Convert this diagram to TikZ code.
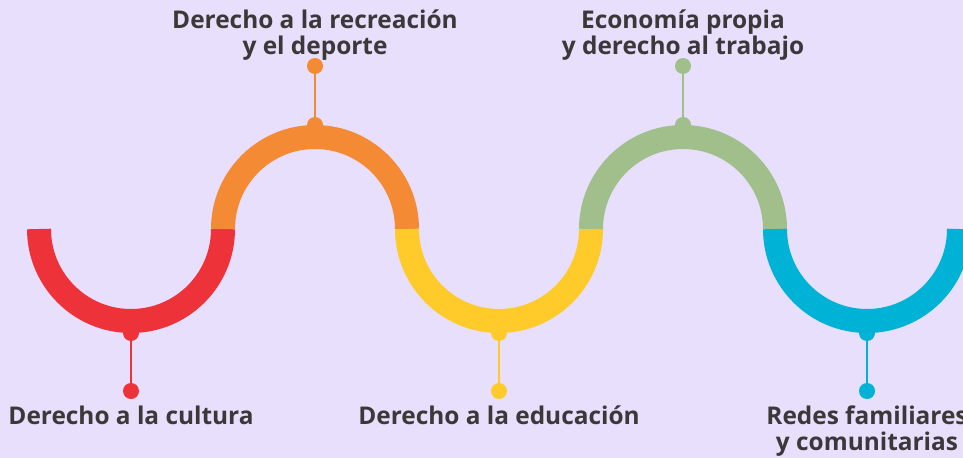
\documentclass[tikz,border=0pt]{standalone}
\usepackage{fontspec}
\setmainfont{Open Sans}
\usetikzlibrary{positioning}
\definecolor{bgLila}{HTML}{E8DFFC}
\definecolor{cRojo}{HTML}{EE323A}
\definecolor{cNaranja}{HTML}{F58A34}
\definecolor{cAmarillo}{HTML}{FFCB2A}
\definecolor{cVerde}{HTML}{A1BF8B}
\definecolor{cCian}{HTML}{00B2D6}
\definecolor{txtGris}{HTML}{3A3838}
\tikzset{
  band/.style={line width=18pt},
  dot/.style={circle, fill=#1, inner sep=0pt, minimum size=12pt},
  stem/.style={draw=#1, line width=1.5pt},
  lbl/.style={font=\bfseries\fontsize{18.3}{19.5}\selectfont, text=txtGris, align=center, inner sep=0pt}
}

\begin{document}
\begin{tikzpicture}[x=0.75pt,y=0.75pt]
		%%%%% START %%%%%
		\fill[bgLila] (0,0) rectangle (963,458);
		\useasboundingbox (0,0) rectangle (963,458);
		
		\draw[band, cRojo] (39,229) arc (180:360:92);
		\draw[band, cNaranja] (223,229) arc (180:0:92);
		\draw[band, cAmarillo] (407,229) arc (180:360:92);
		\draw[band, cVerde] (591,229) arc (180:0:92);
		\draw[band, cCian] (775,229) arc (180:360:92);
		
		\node[dot=cRojo] (arcRojo) at (131,125) {};
		\node[dot=cRojo] (finRojo) at (131,67) {};
		\draw[stem=cRojo] (arcRojo) -- (finRojo);
		\node[lbl, below=5pt of finRojo] (txtRojo) {Derecho a la cultura};
		
		\node[dot=cNaranja] (arcNaranja) at (315,333) {};
		\node[dot=cNaranja] (finNaranja) at (315,392) {};
		\draw[stem=cNaranja] (arcNaranja) -- (finNaranja);
		\node[lbl, above=-2pt of finNaranja] (txtNaranja) {Derecho a la recreación\\y el deporte};
		
		\node[dot=cAmarillo] (arcAmarillo) at (499,125) {};
		\node[dot=cAmarillo] (finAmarillo) at (499,67) {};
		\draw[stem=cAmarillo] (arcAmarillo) -- (finAmarillo);
		\node[lbl, below=5pt of finAmarillo] (txtAmarillo) {Derecho a la educación};
		
		\node[dot=cVerde] (arcVerde) at (683,333) {};
		\node[dot=cVerde] (finVerde) at (683,392) {};
		\draw[stem=cVerde] (arcVerde) -- (finVerde);
		\node[lbl, above=-2pt of finVerde] (txtVerde) {Economía propia\\y derecho al trabajo};
		
		\node[dot=cCian] (arcCian) at (867,125) {};
		\node[dot=cCian] (finCian) at (867,67) {};
		\draw[stem=cCian] (arcCian) -- (finCian);
		\node[lbl, below=5pt of finCian] (txtCian) {Redes familiares\\y comunitarias};
		%%%%% END %%%%%
\end{tikzpicture}
\end{document}
